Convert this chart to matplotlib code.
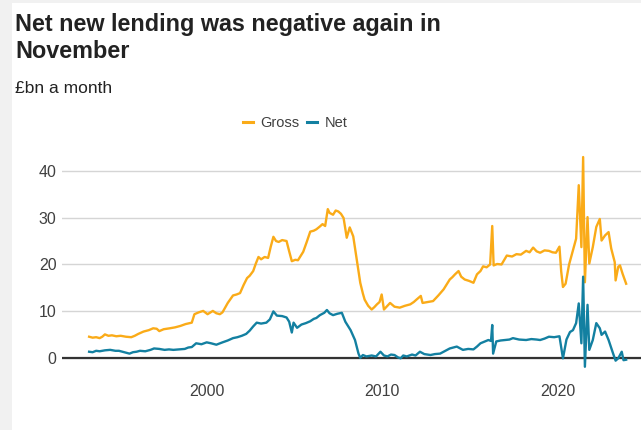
import matplotlib
matplotlib.use("Agg")
import matplotlib.pyplot as plt
from matplotlib.lines import Line2D
from matplotlib.patches import Rectangle

plt.rcParams["font.family"] = ["Liberation Sans", "DejaVu Sans"]

GROSS_C = "#FAAB18"
NET_C = "#1380A1"
TXT_C = "#222222"

# monthly lending, £bn (decimal year, value)
gross_years = [
    1993.30, 1993.50, 1993.70, 1993.90, 1994.05, 1994.20, 1994.40, 1994.60, 1994.85, 1995.10,
    1995.40, 1995.70, 1995.90, 1996.10, 1996.40, 1996.70, 1996.95, 1997.15, 1997.30, 1997.55,
    1997.90, 1998.20, 1998.50, 1998.80, 1999.15, 1999.30, 1999.55, 1999.80, 2000.05, 2000.35,
    2000.55, 2000.75, 2000.90, 2001.20, 2001.50, 2001.70, 2001.90, 2002.10, 2002.30, 2002.45,
    2002.65, 2002.80, 2002.95, 2003.10, 2003.30, 2003.50, 2003.65, 2003.80, 2003.95, 2004.10,
    2004.30, 2004.55, 2004.70, 2004.85, 2005.05, 2005.20, 2005.35, 2005.50, 2005.70, 2005.90,
    2006.10, 2006.25, 2006.45, 2006.60, 2006.75, 2006.90, 2007.00, 2007.20, 2007.35, 2007.50,
    2007.65, 2007.80, 2007.98, 2008.15, 2008.35, 2008.55, 2008.75, 2008.90, 2009.00, 2009.20,
    2009.40, 2009.55, 2009.70, 2009.85, 2009.97, 2010.10, 2010.30, 2010.45, 2010.70, 2011.00,
    2011.30, 2011.60, 2011.80, 2011.95, 2012.20, 2012.30, 2012.60, 2012.90, 2013.20, 2013.50,
    2013.70, 2013.85, 2014.00, 2014.15, 2014.35, 2014.50, 2014.70, 2014.95, 2015.20, 2015.40,
    2015.60, 2015.75, 2015.95, 2016.15, 2016.27, 2016.35, 2016.55, 2016.80, 2017.10, 2017.40,
    2017.65, 2017.90, 2018.20, 2018.40, 2018.60, 2018.80, 2019.00, 2019.25, 2019.50, 2019.70,
    2019.90, 2020.10, 2020.20, 2020.30, 2020.45, 2020.65, 2020.87, 2021.05, 2021.20, 2021.35,
    2021.45, 2021.55, 2021.70, 2021.80, 2022.00, 2022.20, 2022.40, 2022.50, 2022.70, 2022.90,
    2023.05, 2023.25, 2023.30, 2023.45, 2023.55, 2023.70, 2023.90,
]
gross_vals = [
    4.6, 4.4, 4.5, 4.3, 4.6, 5.1, 4.8, 4.9, 4.7, 4.8,
    4.6, 4.5, 4.8, 5.2, 5.7, 6.0, 6.4, 6.3, 5.8, 6.2,
    6.4, 6.6, 6.9, 7.3, 7.6, 9.4, 9.8, 10.1, 9.4, 10.1,
    9.6, 9.4, 9.8, 11.8, 13.4, 13.6, 13.9, 15.6, 17.1, 17.6,
    18.6, 20.2, 21.6, 21.1, 21.6, 21.4, 23.8, 25.9, 25.0, 24.8,
    25.2, 25.0, 22.8, 20.7, 21.0, 20.9, 21.8, 22.7, 24.8, 27.0,
    27.2, 27.5, 28.1, 28.6, 28.2, 31.8, 31.0, 30.6, 31.5, 31.3,
    30.8, 29.9, 25.7, 27.9, 26.0, 21.0, 16.1, 13.8, 12.5, 11.2,
    10.4, 10.9, 11.5, 12.0, 13.6, 10.4, 11.2, 11.8, 11.0, 10.8,
    11.2, 11.5, 12.0, 12.5, 13.3, 11.8, 12.0, 12.2, 13.4, 14.7,
    15.9, 16.8, 17.3, 17.9, 18.6, 17.4, 16.8, 16.5, 16.1, 17.9,
    18.6, 19.6, 19.4, 20.0, 28.2, 19.8, 20.1, 20.0, 21.9, 21.7,
    22.2, 22.1, 22.9, 22.6, 23.6, 22.8, 22.5, 23.0, 22.9, 22.6,
    22.5, 23.8, 18.5, 15.2, 15.9, 20.0, 23.0, 25.5, 36.9, 23.7,
    42.9, 16.2, 30.1, 20.2, 23.7, 28.0, 29.7, 25.1, 26.2, 26.9,
    23.4, 20.5, 16.6, 19.5, 19.8, 18.0, 15.9,
]

net_years = [
    1993.30, 1993.50, 1993.70, 1993.90, 1994.20, 1994.50, 1994.80, 1995.00, 1995.30, 1995.60,
    1995.80, 1996.00, 1996.20, 1996.50, 1996.80, 1997.00, 1997.30, 1997.60, 1997.85, 1998.10,
    1998.40, 1998.75, 1998.95, 1999.15, 1999.40, 1999.70, 2000.00, 2000.25, 2000.55, 2000.90,
    2001.20, 2001.50, 2001.75, 2002.00, 2002.25, 2002.45, 2002.65, 2002.85, 2003.10, 2003.40,
    2003.60, 2003.80, 2004.00, 2004.30, 2004.55, 2004.70, 2004.85, 2004.95, 2005.15, 2005.40,
    2005.65, 2005.90, 2006.10, 2006.25, 2006.45, 2006.70, 2006.85, 2007.00, 2007.20, 2007.45,
    2007.70, 2007.90, 2008.20, 2008.45, 2008.65, 2008.75, 2008.90, 2009.10, 2009.40, 2009.65,
    2009.90, 2010.10, 2010.30, 2010.50, 2010.70, 2010.90, 2011.05, 2011.20, 2011.40, 2011.70,
    2011.90, 2012.15, 2012.40, 2012.75, 2013.00, 2013.30, 2013.60, 2013.85, 2014.05, 2014.25,
    2014.60, 2014.90, 2015.20, 2015.40, 2015.60, 2015.85, 2016.05, 2016.20, 2016.27, 2016.32,
    2016.50, 2016.75, 2017.00, 2017.25, 2017.45, 2017.80, 2018.20, 2018.50, 2018.80, 2019.00,
    2019.25, 2019.50, 2019.80, 2020.10, 2020.30, 2020.50, 2020.70, 2020.87, 2021.05, 2021.20,
    2021.35, 2021.45, 2021.55, 2021.70, 2021.80, 2022.00, 2022.20, 2022.40, 2022.50, 2022.70,
    2022.90, 2023.15, 2023.30, 2023.45, 2023.65, 2023.75, 2023.90,
]
net_vals = [
    1.4, 1.3, 1.6, 1.5, 1.7, 1.8, 1.6, 1.6, 1.3, 1.0,
    1.3, 1.4, 1.6, 1.5, 1.8, 2.1, 2.0, 1.8, 1.9, 1.8,
    1.9, 2.0, 2.3, 2.4, 3.2, 3.0, 3.4, 3.2, 2.9, 3.4,
    3.8, 4.3, 4.5, 4.8, 5.2, 5.9, 6.8, 7.6, 7.4, 7.6,
    8.3, 10.0, 9.1, 9.0, 8.7, 7.8, 5.5, 7.6, 6.5, 7.2,
    7.5, 7.9, 8.4, 8.6, 9.2, 9.7, 10.3, 9.6, 9.2, 9.5,
    9.7, 7.8, 6.0, 3.9, 1.0, 0.1, 0.7, 0.4, 0.6, 0.4,
    1.4, 0.6, 0.4, 0.8, 0.7, 0.2, 0.0, 0.6, 0.4, 0.8,
    0.6, 1.4, 0.9, 0.7, 0.9, 1.0, 1.6, 2.1, 2.3, 2.5,
    1.8, 2.0, 1.9, 2.5, 3.2, 3.6, 3.9, 3.7, 7.1, 1.0,
    3.6, 3.8, 3.9, 4.0, 4.3, 4.0, 3.9, 4.1, 4.0, 3.9,
    4.2, 4.6, 4.5, 4.7, 0.0, 4.0, 5.6, 6.0, 7.5, 11.7,
    3.2, 17.4, -1.8, 11.4, 1.8, 3.9, 7.5, 6.4, 5.0, 5.7,
    3.9, 1.1, -0.5, 0.0, 1.4, -0.4, -0.3,
]

y_ticks = [0, 10, 20, 30, 40]
x_ticks = [2000, 2010, 2020]
title_lines = ["Net new lending was negative again in", "November"]

fig = plt.figure(figsize=(6.41, 4.30), dpi=100, facecolor="white")

# light grey frame strips on the left and top edges
fig.patches.append(Rectangle((0, 0), 12 / 641, 1, transform=fig.transFigure,
                             facecolor="#f1f1f1", edgecolor="none", zorder=0))
fig.patches.append(Rectangle((0, 1 - 3 / 430), 1, 3 / 430, transform=fig.transFigure,
                             facecolor="#f1f1f1", edgecolor="none", zorder=0))

ax = fig.add_axes([62 / 641, 0.1449, 1 - 62 / 641, 0.5019])
ax.plot(gross_years, gross_vals, color=GROSS_C, lw=1.7, solid_joinstyle="round")
ax.plot(net_years, net_vals, color=NET_C, lw=1.7, solid_joinstyle="round")

ax.set_xlim(1991.755, 2024.747)
ax.set_ylim(-2, 44)
ax.set_yticks(y_ticks)
ax.set_xticks(x_ticks)
ax.set_xticklabels([str(t) for t in x_ticks])
ax.grid(axis="y", color="#d5d5d5", lw=1.0)
ax.set_axisbelow(True)
ax.axhline(0, color="#333333", lw=1.6, zorder=1.5)
for s in ax.spines.values():
    s.set_visible(False)
ax.tick_params(axis="both", length=0, labelsize=11.5, labelcolor="#404040")
ax.tick_params(axis="y", pad=4)
ax.tick_params(axis="x", pad=12)

# two-line bold title, each line on its own baseline
for i, line in enumerate(title_lines):
    fig.text(15 / 641, 1 - (31 + 27 * i) / 430, line, fontsize=16.8, fontweight="bold",
             color=TXT_C, ha="left", va="baseline")
fig.text(15 / 641, 1 - 93 / 430, "£bn a month", fontsize=12.5, color=TXT_C,
         ha="left", va="baseline")

handles = [Line2D([], [], color=GROSS_C, lw=2.2), Line2D([], [], color=NET_C, lw=2.2)]
fig.legend(handles, ["Gross", "Net"], loc="center", bbox_to_anchor=(295 / 641, 1 - 123 / 430),
           ncol=2, frameon=False, fontsize=10.5, handlelength=0.7, handletextpad=0.5,
           columnspacing=0.5, labelcolor="#404040")

fig.savefig("out.png", dpi=100, facecolor="white")
